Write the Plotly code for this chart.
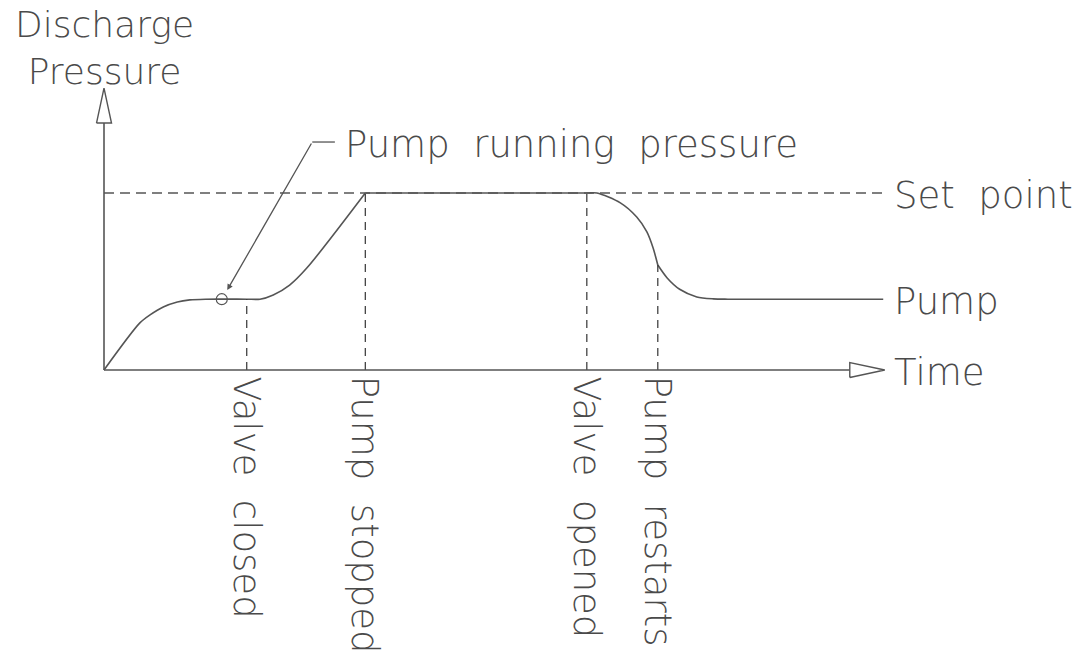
import plotly.graph_objects as go

# ---------------- data (arbitrary units) ----------------
# time axis: 0..100, pressure axis: set point = 100
time_curve = [0, 4.6, 5.9, 7.6, 9.4, 11.0, 13.0, 18.3, 20.0, 21.7, 23.8, 26.0, 33.5,
              61.9, 63.2, 66.2, 68.3, 69.6, 70.4, 71.0,
              72.2, 73.8, 76.0, 78.1, 80.0, 99.9]
pressure_curve = [0, 26.6, 31.1, 35.6, 38.4, 39.6, 40, 40, 40, 42.4, 48.0, 57.6, 100,
                  100, 100, 94.4, 86.4, 78.0, 68.9, 59.3,
                  52.0, 45.6, 41.3, 40.2, 40, 40]
curve_breaks = [12, 19]          # indices of the sharp corners in the curve

event_times = [18.3, 33.5, 61.9, 71.0]
event_pressures = [40, 100, 100, 59.3]
event_labels = ["Valve closed", "Pump stopped", "Valve opened", "Pump restarts"]

set_point = 100
running_pressure = 40
running_marker_time = 15.1
time_end = 100.1
pressure_axis_end = 159.3
setpoint_end = 100.1

# leader for "Pump running pressure"
leader_tip = (15.8, 45.2)
leader_knee = (26.7, 128.8)
leader_end = 29.6

# ---------------- geometry of the page ----------------
W, H = 1087, 670
X0_PX, Y0_PX = 104, 370          # pixel position of the origin
PX_X, PX_Y = 7.8, 1.77           # pixels per unit
x_range = [-X0_PX / PX_X, (W - X0_PX) / PX_X]
y_range = [-(H - Y0_PX) / PX_Y, Y0_PX / PX_Y]

LINE = "#555555"
TEXT = "#4a4a4a"
FONT = "DejaVu Sans"
FS = 37
NB = "\u00a0"

fig = go.Figure()

# pump curve, drawn in smooth pieces between its sharp corners
cuts = [0] + curve_breaks + [len(time_curve) - 1]
for a, b in zip(cuts[:-1], cuts[1:]):
    fig.add_trace(go.Scatter(
        x=time_curve[a:b + 1], y=pressure_curve[a:b + 1], mode="lines",
        line=dict(color=LINE, width=1.6, shape="spline", smoothing=0.8),
        hoverinfo="skip", showlegend=False))

# set point dashed line
fig.add_trace(go.Scatter(
    x=[0, setpoint_end], y=[set_point, set_point], mode="lines",
    line=dict(color=LINE, width=1.4, dash="10px,6px"),
    hoverinfo="skip", showlegend=False))

# event dashed verticals
for t, p in zip(event_times, event_pressures):
    fig.add_trace(go.Scatter(
        x=[t, t], y=[0, p], mode="lines",
        line=dict(color="#333333", width=1.2, dash="8px,6px"),
        hoverinfo="skip", showlegend=False))

# axes
hw_y = 7.5 / PX_X     # arrow half width in time units
hw_x = 7.5 / PX_Y     # arrow half height in pressure units
y_base = pressure_axis_end - 35 / PX_Y
x_base = time_end - 35 / PX_X
fig.add_trace(go.Scatter(x=[0, 0], y=[0, y_base], mode="lines",
                         line=dict(color=LINE, width=1.6),
                         hoverinfo="skip", showlegend=False))
fig.add_trace(go.Scatter(x=[0, x_base], y=[0, 0], mode="lines",
                         line=dict(color=LINE, width=1.6),
                         hoverinfo="skip", showlegend=False))
fig.add_trace(go.Scatter(
    x=[-hw_y, 0, hw_y, -hw_y], y=[y_base, pressure_axis_end, y_base, y_base],
    mode="lines", fill="toself", fillcolor="white",
    line=dict(color=LINE, width=1.4), hoverinfo="skip", showlegend=False))
fig.add_trace(go.Scatter(
    x=[x_base, time_end, x_base, x_base], y=[-hw_x, 0, hw_x, -hw_x],
    mode="lines", fill="toself", fillcolor="white",
    line=dict(color=LINE, width=1.4), hoverinfo="skip", showlegend=False))

# running-pressure marker and leader
fig.add_trace(go.Scatter(
    x=[running_marker_time], y=[running_pressure], mode="markers",
    marker=dict(symbol="circle-open", size=11, color=LINE, line=dict(width=1.2)),
    hoverinfo="skip", showlegend=False))
fig.add_trace(go.Scatter(
    x=[leader_knee[0], leader_end], y=[leader_knee[1], leader_knee[1]],
    mode="lines", line=dict(color=LINE, width=1.3),
    hoverinfo="skip", showlegend=False))
fig.add_annotation(x=leader_tip[0], y=leader_tip[1], ax=leader_knee[0], ay=leader_knee[1],
                   axref="x", ayref="y", xref="x", yref="y", text="",
                   showarrow=True, arrowhead=2, arrowsize=0.9, arrowwidth=1.3,
                   arrowcolor=LINE)

font = dict(family=FONT, size=FS, color=TEXT, weight=200)

def label(x, y, text, xanchor="left", yanchor="middle", angle=0, align="left", size=FS):
    f = dict(font)
    f["size"] = size
    fig.add_annotation(x=x, y=y, xref="x", yref="y", text=text, showarrow=False,
                       xanchor=xanchor, yanchor=yanchor, textangle=angle,
                       align=align, font=f)

label(leader_end + 8 / PX_X, leader_knee[1] - 2 / PX_Y,
      "Pump" + NB * 2 + "running" + NB * 2 + "pressure")
label(time_end + 7 / PX_X, set_point - 2 / PX_Y, "Set" + NB * 2 + "point")
label(time_end + 7 / PX_X, running_pressure - 2 / PX_Y, "Pump")
label(time_end + 7 / PX_X, -2 / PX_Y, "Time")
# y-axis title, two lines centred over the axis
label(0.1, (Y0_PX - 48) / PX_Y, "Discharge<br>Pressure", xanchor="center",
      yanchor="middle", align="center", size=36)

for t, name in zip(event_times, event_labels):
    label(t, -4 / PX_Y, name.replace(" ", NB * 2), xanchor="center", yanchor="top", angle=90)

fig.update_layout(
    width=W, height=H, autosize=False,
    margin=dict(l=0, r=0, t=0, b=0),
    paper_bgcolor="white", plot_bgcolor="white",
    xaxis=dict(range=x_range, visible=False, fixedrange=True),
    yaxis=dict(range=y_range, visible=False, fixedrange=True),
    showlegend=False,
)

# remove the default page margin so the figure fills the window exactly
fig.write_html("out.html",
               config={"displayModeBar": False, "staticPlot": True},
               post_script="document.body.style.margin='0';"
                           "document.body.style.overflow='hidden';")
